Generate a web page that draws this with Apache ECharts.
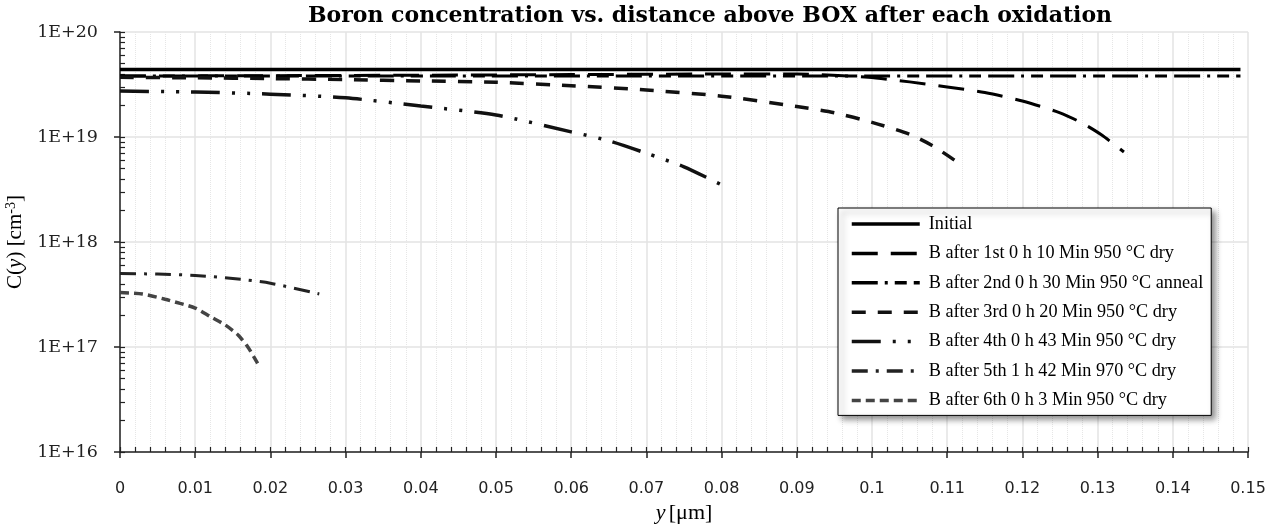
<!DOCTYPE html>
<html>
<head>
<meta charset="utf-8">
<script src="https://cdn.jsdelivr.net/npm/echarts@6/dist/echarts.min.js"></script>
<style>
  html, body { margin: 0; padding: 0; background: #fff; }
  #chart { width: 1278px; height: 524px; }
</style>
</head>
<body>
<div id="chart"></div>
<script>
// Boron profiles, y in um, C in cm^-3
var seriesNames = [
    'Initial',
    'B after 1st 0 h 10 Min 950 °C dry',
    'B after 2nd 0 h 30 Min 950 °C anneal',
    'B after 3rd 0 h 20 Min 950 °C dry',
    'B after 4th 0 h 43 Min 950 °C dry',
    'B after 5th 1 h 42 Min 970 °C dry',
    'B after 6th 0 h 3 Min 950 °C dry'
];

var initialData = [[0, 4.4e19], [0.149, 4.4e19]];
var after1st = [[0, 3.8e19], [0.02, 3.84e19], [0.04, 3.88e19], [0.06, 3.93e19], [0.08, 3.98e19],
    [0.09, 3.98e19], [0.0995, 3.7e19], [0.105, 3.35e19], [0.11, 3.0e19], [0.115, 2.65e19],
    [0.12, 2.2e19], [0.125, 1.7e19], [0.128, 1.35e19], [0.1305, 1.05e19], [0.1335, 7.2e18]];
var after2nd = [[0, 3.8e19], [0.149, 3.8e19]];
var after3rd = [[0, 3.7e19], [0.01, 3.66e19], [0.02, 3.6e19], [0.03, 3.52e19], [0.04, 3.42e19],
    [0.05, 3.32e19], [0.06, 3.08e19], [0.07, 2.8e19], [0.08, 2.45e19], [0.09, 1.95e19],
    [0.095, 1.7e19], [0.1, 1.38e19], [0.105, 1.06e19], [0.108, 8.3e18], [0.111, 6e18]];
var after4th = [[0, 2.74e19], [0.01, 2.68e19], [0.02, 2.56e19], [0.03, 2.36e19], [0.04, 1.97e19],
    [0.05, 1.62e19], [0.06, 1.12e19], [0.065, 9.2e18], [0.07, 7.0e18], [0.075, 5.2e18], [0.08, 3.5e18]];
var after5th = [[0, 5.0e17], [0.005, 4.95e17], [0.01, 4.8e17], [0.015, 4.5e17], [0.02, 4.05e17],
    [0.0265, 3.2e17]];
var after6th = [[0, 3.3e17], [0.003, 3.2e17], [0.006, 2.85e17], [0.008, 2.6e17], [0.01, 2.35e17],
    [0.012, 1.95e17], [0.014, 1.62e17], [0.0157, 1.3e17], [0.017, 1.0e17], [0.0183, 7e16]];

var decades = [16, 17, 18, 19, 20];

// log minor tick positions (2..9 inside each decade)
var yTickValues = [];
decades.forEach(function (d) {
    for (var k = 1; k <= 9; k++) {
        if (d + Math.log10(k) <= 20) yTickValues.push(d + Math.log10(k));
    }
});

var chart = echarts.init(document.getElementById('chart'));

function line(name, data, width, dash, color) {
    return {
        name: name,
        type: 'line',
        data: data,
        symbol: 'none',
        smooth: 0.25,
        xAxisIndex: 0,
        yAxisIndex: 0,
        lineStyle: { width: width, type: dash, color: color },
        itemStyle: { color: color },
        z: 3
    };
}

var option = {
    animation: false,
    title: {
        text: 'Boron concentration vs. distance above BOX after each oxidation',
        left: 705,
        textAlign: 'center',
        top: 0,
        textStyle: { fontFamily: 'DejaVu Serif', fontWeight: 'bold', fontSize: 22, color: '#000' }
    },
    grid: { left: 120, right: 30, top: 32, bottom: 72, outerBoundsMode: 'none', containLabel: false },
    legend: {
        orient: 'vertical',
        left: 838,
        top: 208,
        padding: [6, 8, 5, 12],
        itemWidth: 68,
        itemHeight: 14,
        itemGap: 9.4,
        backgroundColor: '#fff',
        borderColor: '#000',
        borderWidth: 1,
        shadowColor: 'rgba(0,0,0,0.45)',
        shadowBlur: 6,
        shadowOffsetX: 4,
        shadowOffsetY: 4,
        itemStyle: { opacity: 0 },
        lineStyle: { width: 3.5 },
        textStyle: { fontFamily: 'Liberation Serif', fontSize: 18.2, lineHeight: 20, color: '#000', padding: [0, 0, 0, 4] },
        data: seriesNames
    },
    xAxis: [{
        type: 'value',
        min: 0,
        max: 0.15,
        interval: 0.01,
        name: '{i|y} {n|[μm]}',
        nameLocation: 'middle',
        nameGap: 48,
        nameTextStyle: {
            rich: {
                i: { fontFamily: 'Liberation Serif', fontStyle: 'italic', fontSize: 22, color: '#000' },
                n: { fontFamily: 'Liberation Serif', fontSize: 22, color: '#000' }
            }
        },
        axisLine: { lineStyle: { color: '#222', width: 1.5 } },
        axisTick: { inside: false, length: 6, lineStyle: { color: '#222', width: 1.5 } },
        axisLabel: { margin: 29, fontFamily: 'DejaVu Sans', fontSize: 16, color: '#222' },
        splitLine: { lineStyle: { color: '#e3e3e3', width: 1.5 } },
        minorTick: { show: false },
        minorSplitLine: { show: true, lineStyle: { color: '#e6e6e6', type: 'dotted', width: 1 } }
    }, {
        type: 'value',
        position: 'bottom',
        min: 0,
        max: 0.15,
        interval: 0.002,
        axisLine: { show: false },
        axisTick: { inside: true, length: 5, lineStyle: { color: '#222', width: 1.2 } },
        axisLabel: { show: false },
        splitLine: { show: false }
    }],
    yAxis: [{
        type: 'log',
        logBase: 10,
        min: 1e16,
        max: 1e20,
        name: '{n|C(}{i|y}{n|) [cm}{s|-3}{n|]}',
        nameLocation: 'middle',
        nameGap: 88,
        nameRotate: 90,
        nameTextStyle: {
            rich: {
                n: { fontFamily: 'Liberation Serif', fontSize: 21, color: '#000' },
                i: { fontFamily: 'Liberation Serif', fontStyle: 'italic', fontSize: 21, color: '#000' },
                s: { fontFamily: 'Liberation Serif', fontSize: 14, color: '#000', padding: [0, 0, 9, 0] }
            }
        },
        axisLine: { show: true, lineStyle: { color: '#222', width: 1.5 } },
        axisTick: { inside: false, length: 6, lineStyle: { color: '#222', width: 1.5 } },
        axisLabel: {
            margin: 22,
            fontFamily: 'DejaVu Serif',
            fontSize: 17.5,
            color: '#222',
            formatter: function (v) { return '1E+' + Math.round(Math.log10(v)); }
        },
        splitLine: { lineStyle: { color: '#e3e3e3', width: 1.5 } }
    }, {
        type: 'value',
        position: 'left',
        min: 16,
        max: 20,
        axisLine: { show: false },
        axisTick: { show: true, inside: true, length: 5, customValues: yTickValues, lineStyle: { color: '#222', width: 1.2 } },
        axisLabel: { show: false },
        splitLine: { show: false }
    }],
    series: [
        line(seriesNames[0], initialData, 3.5, 'solid', '#000'),
        line(seriesNames[1], after1st, 3, [26, 13], '#000'),
        line(seriesNames[2], after2nd, 3, [26, 7, 3, 7, 12, 7], '#000'),
        line(seriesNames[3], after3rd, 3.5, [14, 12], '#111'),
        line(seriesNames[4], after4th, 3.5, [29, 12, 3, 12, 3, 12], '#111'),
        line(seriesNames[5], after5th, 3, [16, 8, 3, 8], '#222'),
        line(seriesNames[6], after6th, 3.5, [9, 5], '#444')
    ]
};

chart.setOption(option);
</script>
</body>
</html>
